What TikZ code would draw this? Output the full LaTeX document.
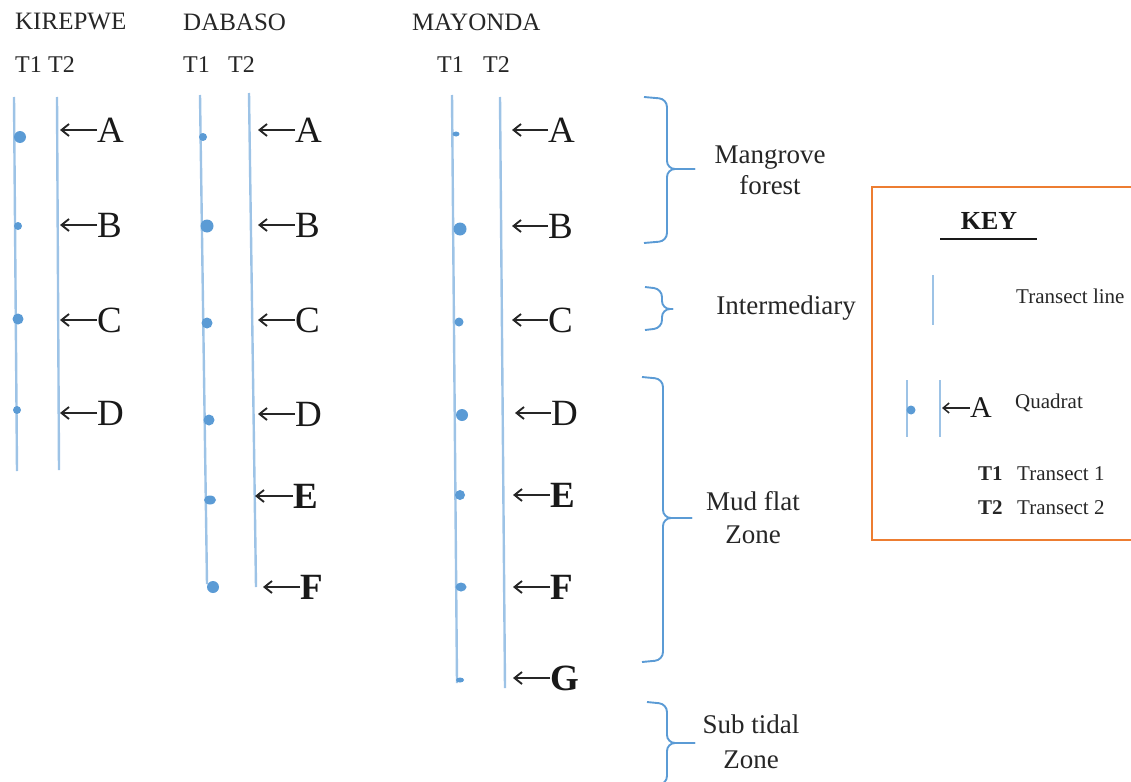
\documentclass[tikz,border=0pt]{standalone}
\usepackage{fontspec}
\setmainfont{Liberation Serif}
\usetikzlibrary{arrows.meta}
\definecolor{tline}{HTML}{9DC3E6}
\definecolor{qdot}{HTML}{5B9BD5}
\definecolor{keyframe}{HTML}{ED7D31}
\tikzset{
  transect/.style={tline, line width=2.4pt},
  quad/.style={fill=qdot},
  bracestroke/.style={qdot, line width=1.9pt, rounded corners=8pt},
  ptr/.style={-{Straight Barb[length=7.5pt,width=12pt]}, line width=1.9pt, black!85},
  keyptr/.style={-{Straight Barb[length=6pt,width=10pt]}, line width=1.5pt, black!85},
  site/.style={inner sep=0pt, anchor=west, font=\fontsize{25}{28}\selectfont, text=black!85},
  tlab/.style={inner sep=0pt, anchor=west, font=\fontsize{24}{28}\selectfont, text=black!85},
  qlab/.style={inner sep=0pt, anchor=west, font=\fontsize{37}{40}\selectfont, text=black!90},
  zone/.style={inner sep=0pt, align=center, font=\fontsize{27}{31}\selectfont, text=black!85},
  keytext/.style={inner sep=0pt, anchor=west, font=\fontsize{21}{24}\selectfont, text=black!85},
}
% quadrat label with a pointer to the transect: name, tip x, letter x, y, letter
\newcommand\qmark[5]{%
  \coordinate (#1t) at (#2,#4);
  \node[qlab] (#1) at (#3,#4) {#5};
  \draw[ptr] (#1.west) -- (#1t);}
% zone brace: name, end x, spine x, tip x, top y, tip y, bottom y
\newcommand\zbrace[7]{%
  \coordinate (#1top) at (#2,#5);
  \coordinate (#1tip) at (#4,#6);
  \coordinate (#1bot) at (#2,#7);
  \draw[bracestroke] (#1top) -- (#3,#5+2) -- (#3,#6) -- (#1tip);
  \draw[bracestroke] (#1tip) -- (#3,#6) -- (#3,#7-2) -- (#1bot);}
\begin{document}
\begin{tikzpicture}[x=1pt,y=-1pt]
\useasboundingbox (0,0) rectangle (1131,781);

% site headings
\node[site] (kir) at (15,22) {KIREPWE};
\node[site] (dab) at (183,22) {DABASO};
\node[site] (may) at (412,22) {MAYONDA};
\node[tlab] (kT1) at (15,65) {T1};
\node[tlab] (kT2) at (48,65) {T2};
\node[tlab] (dT1) at (183,65) {T1};
\node[tlab] (dT2) at (228,65) {T2};
\node[tlab] (mT1) at (437,65) {T1};
\node[tlab] (mT2) at (483,65) {T2};

% transect lines
\draw[transect] (14,97) -- (17,471);
\draw[transect] (57,97) -- (59,470);
\draw[transect] (200,95) -- (207,584);
\draw[transect] (249,93) -- (256,587);
\draw[transect] (452,95) -- (457,683);
\draw[transect] (500,97) -- (505,688);

% quadrats, Kirepwe T1
\fill[quad] (20,137) circle[radius=6pt];
\fill[quad] (18,226) circle[radius=4pt];
\fill[quad] (18,319) circle[radius=5.5pt];
\fill[quad] (17,410) circle[radius=4pt];
% quadrats, Dabaso T1
\fill[quad] (203,137) circle[radius=4pt];
\fill[quad] (207,226) circle[radius=6.5pt];
\fill[quad] (207,323) circle[radius=5.5pt];
\fill[quad] (209,420) circle[radius=5.5pt];
\fill[quad] (210,500) ellipse[x radius=6pt, y radius=4.5pt];
\fill[quad] (213,587) circle[radius=6pt];
% quadrats, Mayonda T1
\fill[quad] (456,134) ellipse[x radius=3.5pt, y radius=2.5pt];
\fill[quad] (460,229) circle[radius=6.5pt];
\fill[quad] (459,322) circle[radius=4.5pt];
\fill[quad] (462,415) circle[radius=6pt];
\fill[quad] (460,495) circle[radius=5pt];
\fill[quad] (461,587) ellipse[x radius=5.5pt, y radius=4.5pt];
\fill[quad] (460,680) ellipse[x radius=4pt, y radius=2.5pt];

% quadrat labels
\qmark{kA}{60}{97}{130}{A}
\qmark{kB}{60}{97}{225}{B}
\qmark{kC}{60}{97}{320}{C}
\qmark{kD}{60}{97}{413}{D}
\qmark{dA}{258}{295}{130}{A}
\qmark{dB}{258}{295}{225}{B}
\qmark{dC}{258}{295}{320}{C}
\qmark{dD}{258}{295}{414}{D}
\qmark{dE}{255}{293}{496}{\textbf{E}}
\qmark{dF}{263}{300}{587}{\textbf{F}}
\qmark{mA}{512}{548}{130}{A}
\qmark{mB}{512}{548}{226}{B}
\qmark{mC}{512}{548}{320}{C}
\qmark{mD}{515}{551}{413}{D}
\qmark{mE}{513}{550}{495}{\textbf{E}}
\qmark{mF}{513}{550}{587}{\textbf{F}}
\qmark{mG}{513}{550}{678}{\textbf{G}}

% zone braces and names
\zbrace{mg}{644}{667}{695}{97}{169}{243}
\zbrace{im}{645}{662}{673}{287}{309}{330}
\zbrace{mf}{642}{663}{692}{377}{518}{662}
\zbrace{st}{647}{667}{695}{702}{743}{786}
\node[zone] (mgname) at (770,170) {Mangrove\\forest};
\node[zone] (imname) at (786,308) {Intermediary};
\node[zone, font=\fontsize{27}{33}\selectfont] (mfname) at (753,518) {Mud flat\\Zone};
\node[zone, font=\fontsize{27}{35}\selectfont] (stname) at (751,742) {Sub tidal\\Zone};

% key
\draw[keyframe, line width=1.8pt] (872,187) rectangle (1140,540);
\node[inner sep=0pt, font=\bfseries\fontsize{26}{28}\selectfont, text=black!90] (keyhead) at (989,221) {KEY};
\draw[black!90, line width=1.5pt] (940,239) -- (1037,239);
\draw[transect] (933,275) -- (933,325);
\node[keytext] (kline) at (1016,296) {Transect line};
\draw[transect] (907,380) -- (907,437);
\draw[transect] (940,380) -- (940,437);
\fill[quad] (911,410) circle[radius=4.5pt];
\coordinate (keyAt) at (942,408);
\node[inner sep=0pt, anchor=west, font=\fontsize{30}{32}\selectfont, text=black!90] (keyA) at (970,408) {A};
\draw[keyptr] (keyA.west) -- (keyAt);
\node[keytext] (kquad) at (1015,403) {Quadrat};
\node[keytext, font=\bfseries\fontsize{21}{24}\selectfont] (kt1) at (978,474) {T1};
\node[keytext] (kt1name) at (1017,474) {Transect 1};
\node[keytext, font=\bfseries\fontsize{21}{24}\selectfont] (kt2) at (978,508) {T2};
\node[keytext] (kt2name) at (1017,508) {Transect 2};
\end{tikzpicture}
\end{document}
